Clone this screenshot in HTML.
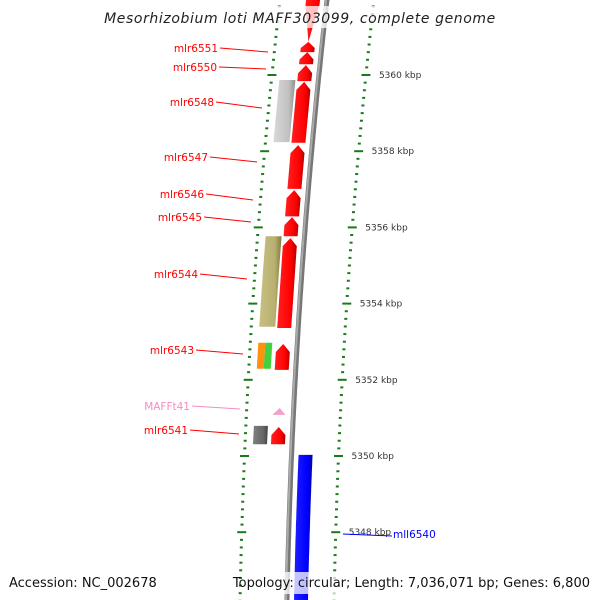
<!DOCTYPE html>
<html><head><meta charset="utf-8"><style>
html,body{margin:0;padding:0;background:#fff;}
svg{display:block;font-family:"DejaVu Sans","Liberation Sans",sans-serif;}
</style></head><body>
<svg id="c" width="600" height="600" viewBox="0 0 600 600">
<defs>
<linearGradient id="gr" x1="0" x2="1" y1="0" y2="0"><stop offset="0" stop-color="#ff2020"/><stop offset="0.7" stop-color="#ff0000"/><stop offset="1" stop-color="#b00000"/></linearGradient>
<linearGradient id="gb" x1="0" x2="1"><stop offset="0" stop-color="#2020ff"/><stop offset="0.7" stop-color="#0000ff"/><stop offset="1" stop-color="#0000b0"/></linearGradient>
<linearGradient id="gg" x1="0" x2="1"><stop offset="0" stop-color="#d8d8d8"/><stop offset="0.7" stop-color="#c0c0c0"/><stop offset="1" stop-color="#909090"/></linearGradient>
<linearGradient id="go" x1="0" x2="1"><stop offset="0" stop-color="#c8c080"/><stop offset="0.7" stop-color="#b8b070"/><stop offset="1" stop-color="#807840"/></linearGradient>
<linearGradient id="gd" x1="0" x2="1"><stop offset="0" stop-color="#808080"/><stop offset="0.7" stop-color="#666"/><stop offset="1" stop-color="#444"/></linearGradient>
<linearGradient id="gk" x1="0" x2="1"><stop offset="0" stop-color="#aaa"/><stop offset="0.5" stop-color="#999"/><stop offset="1" stop-color="#555"/></linearGradient>
</defs>
<g id="marks"></g>
<rect x="115" y="6" width="370" height="22" fill="#fff" fill-opacity="0.75"/>
<text x="300" y="23" text-anchor="middle" font-size="14" font-style="italic" fill="#222" letter-spacing="0.6">Mesorhizobium loti MAFF303099, complete genome</text>
<rect x="258" y="572" width="336" height="22" fill="#fff" fill-opacity="0.75"/>
<text x="9" y="587" font-size="13" fill="#111">Accession: NC_002678</text>
<text x="590" y="587" text-anchor="end" font-size="13" fill="#111">Topology: circular; Length: 7,036,071 bp; Genes: 6,800</text>
</svg>
<script>
// positions in kbp
const majorTicks = [5362, 5360, 5358, 5356, 5354, 5352, 5350, 5348, 5346];
const tickLabels = ["5362 kbp","5360 kbp","5358 kbp","5356 kbp","5354 kbp","5352 kbp","5350 kbp","5348 kbp","5346 kbp"];
const fwdNames = ["mlr6552","mlr6551","mlr6550","mlr6549","mlr6548","mlr6547","mlr6546","mlr6545","mlr6544","mlr6543","mlr6541"];
const fwdStart = [5362.5, 5360.60, 5360.28, 5359.84, 5358.22, 5357.01, 5356.29, 5355.77, 5353.36, 5352.26, 5350.31];
const fwdEnd   = [5360.87, 5360.87, 5360.60, 5360.26, 5359.82, 5358.16, 5356.98, 5356.27, 5355.72, 5352.94, 5350.76];
const boxNames = ["gray-box","olive-box","orange-box","green-box","darkgray-box"];
const boxStart = [5358.24, 5353.39, 5352.29, 5352.29, 5350.31];
const boxEnd   = [5359.87, 5355.77, 5352.97, 5352.97, 5350.79];
const revStart = [5346.0];
const revEnd   = [5350.03];
const rnaStart = [5351.08];
const rnaEnd   = [5351.26];

const NS='http://www.w3.org/2000/svg';
const g=document.getElementById('marks');
function Y(k){return 75+(5360-k)*38.1;}
function X(y){return 327-0.1133*y+0.0000778*y*y;}
function el(t,a){const e=document.createElementNS(NS,t);for(const k in a)e.setAttribute(k,a[k]);g.appendChild(e);return e;}
function band(y1,y2,a,b){const pts=[];for(let y=y1;y<=y2;y+=4)pts.push([X(y)+a,y]);pts.push([X(y2)+a,y2]);const q=[];for(let y=y2;y>=y1;y-=4)q.push([X(y)+b,y]);q.push([X(y1)+b,y1]);return pts.concat(q).map(p=>p[0].toFixed(1)+','+p[1].toFixed(1)).join(' ');}
// backbone
let bb=[];for(let y=-5;y<=605;y+=5)bb.push(X(y).toFixed(1)+','+y);
let e=el('polyline',{points:bb.join(' '),fill:'none',stroke:'#777','stroke-width':5});

e=el('polyline',{points:bb.map(p=>{const [x,y]=p.split(',');return (x-1)+','+y;}).join(' '),fill:'none',stroke:'#aaa','stroke-width':2});

// ticks
for(let k=5346;k<=5362.01;k+=0.2){
  const y=Y(k);if(y<-2||y>602)continue;
  const maj=Math.abs(k-Math.round(k))<0.01&&Math.round(k)%2===0;
  const L=maj?9:3;
  [47,-47].forEach(off=>{const x=X(y)+off;
    const t=el('line',{x1:x-L/2,x2:x+L/2,y1:y,y2:y,stroke:'#1a7a1a','stroke-width':2});
    });
}
majorTicks.forEach((k,i)=>{const y=Y(k);if(y<0||y>600)return;
  const t=el('text',{x:X(y)+60,y:y+3,'font-size':9,fill:'#333'});t.textContent=tickLabels[i];
  });
// forward genes
fwdStart.forEach((s,i)=>{const yb=Y(s),yt=Y(fwdEnd[i]);const a=-21,b=-7;
  const h=Math.min(8,(yb-yt)*0.6);const pts=[];
  pts.push([X(yt)+(a+b)/2,yt]);pts.push([X(yt+h)+b,yt+h]);pts.push([X(yb)+b,yb]);pts.push([X(yb)+a,yb]);pts.push([X(yt+h)+a,yt+h]);
  const p=el('polygon',{points:pts.map(q=>q[0].toFixed(1)+','+q[1].toFixed(1)).join(' '),fill:'url(#gr)'});
  });
// boxes
const boxFill=['url(#gg)','url(#go)','#ff9010','#40d040','url(#gd)'];
const boxOff=[[-39,-23],[-39,-23],[-39,-32],[-32,-25],[-39,-25]];
boxStart.forEach((s,i)=>{const p=el('polygon',{points:band(Y(boxEnd[i]),Y(s),boxOff[i][0],boxOff[i][1]),fill:boxFill[i]});
  });
// reverse
revStart.forEach((s,i)=>{const p=el('polygon',{points:band(Y(revEnd[i]),Y(s),7,21),fill:'url(#gb)'});
  });
// rna
rnaStart.forEach((s,i)=>{const y1=Y(rnaEnd[i]),y2=Y(s);
  const p=el('polygon',{points:[[X(y1)-14,y1],[X(y2)-8,y2],[X(y2)-21,y2]].map(q=>q.join(',')).join(' '),fill:'#f4a0c8'});
  });
// labels
const labs=[["mlr6551",218,48,268,52,'#f00'],["mlr6550",217,67,266,69,'#f00'],["mlr6548",214,102,262,108,'#f00'],["mlr6547",208,157,257,162,'#f00'],["mlr6546",204,194,253,200,'#f00'],["mlr6545",202,217,251,222,'#f00'],["mlr6544",198,274,247,279,'#f00'],["mlr6543",194,350,243,354,'#f00'],["MAFFt41",190,406,240,409,'#f58cc0'],["mlr6541",188,430,239,434,'#f00']];
labs.forEach(l=>{const t=el('text',{x:l[1],y:l[2]+4,'text-anchor':'end','font-size':10.5,fill:l[5]});t.textContent=l[0];
  
  const ln=el('line',{x1:l[1]+2,y1:l[2],x2:l[3],y2:l[4],stroke:l[5],'stroke-width':1});
  });
e=el('line',{x1:343,y1:534,x2:392,y2:536,stroke:'#00f','stroke-width':1});

e=el('text',{x:393,y:538,'font-size':10.5,fill:'#00f'});e.textContent='mll6540';

</script>
</body></html>
